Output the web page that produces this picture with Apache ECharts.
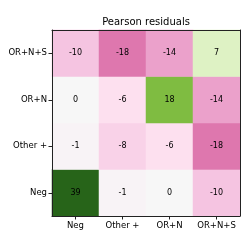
<!DOCTYPE html>
<html>
<head>
<meta charset="utf-8">
<script src="https://cdn.jsdelivr.net/npm/echarts@6/dist/echarts.min.js"></script>
<style>html,body{margin:0;padding:0;background:#fff;}#c{width:249px;height:249px;}</style>
</head>
<body>
<div id="c"></div>
<script>
const xCategories = ['Neg', 'Other +', 'OR+N', 'OR+N+S'];
const yCategories = ['Neg', 'Other +', 'OR+N', 'OR+N+S'];
// rows from bottom to top, values by column
const rowNeg = [39, -1, 0, -10];
const rowOther = [-1, -8, -6, -18];
const rowORN = [0, -6, 18, -14];
const rowORNS = [-10, -18, -14, 7];
const rows = [rowNeg, rowOther, rowORN, rowORNS];
const data = [];
rows.forEach((r, yi) => r.forEach((v, xi) => data.push([xi, yi, v])));

const PiYG = ['#8e0152','#c51b7d','#de77ae','#f1b6da','#fde0ef','#f7f7f7','#e6f5d0','#b8e186','#7fbc41','#4d9221','#276419'];
const font = 'DejaVu Sans';
const spine = {show: true, lineStyle: {color: '#222', width: 1}};
const chart = echarts.init(document.getElementById('c'), null, {renderer: 'canvas'});
chart.setOption({
  animation: false,
  graphic: [{
    type: 'text', x: 146, y: 22, z: 10,
    style: {text: 'Pearson residuals', fontFamily: font, fontSize: 10, fill: '#000', align: 'center', verticalAlign: 'middle'}
  }],
  grid: {left: 52, top: 30, width: 188, height: 186, show: false},
  xAxis: [{
    type: 'category', data: xCategories, position: 'bottom', z: 5,
    axisLine: spine,
    axisTick: {show: true, alignWithLabel: true, interval: 0, length: 3.5, lineStyle: {color: '#222'}},
    axisLabel: {interval: 0, fontFamily: font, fontSize: 8.5, color: '#000', margin: 5},
    splitLine: {show: false}
  }, {
    type: 'category', data: xCategories, position: 'top', z: 5,
    axisLine: spine, axisTick: {show: false}, axisLabel: {show: false}, splitLine: {show: false}
  }],
  yAxis: [{
    type: 'category', data: yCategories, position: 'left', z: 5,
    axisLine: spine,
    axisTick: {show: true, alignWithLabel: true, interval: 0, length: 3.5, lineStyle: {color: '#222'}},
    axisLabel: {interval: 0, fontFamily: font, fontSize: 8.5, color: '#000', margin: 5},
    splitLine: {show: false}
  }, {
    type: 'category', data: yCategories, position: 'right', z: 5,
    axisLine: spine, axisTick: {show: false}, axisLabel: {show: false}, splitLine: {show: false}
  }],
  visualMap: {
    show: false, type: 'continuous', min: -30, max: 30, dimension: 2,
    inRange: {color: PiYG}
  },
  series: [{
    type: 'heatmap', data: data, xAxisIndex: 0, yAxisIndex: 0,
    label: {show: true, fontFamily: font, fontSize: 8, color: '#000'},
    itemStyle: {borderWidth: 0},
    emphasis: {disabled: true}
  }]
});
</script>
</body>
</html>
